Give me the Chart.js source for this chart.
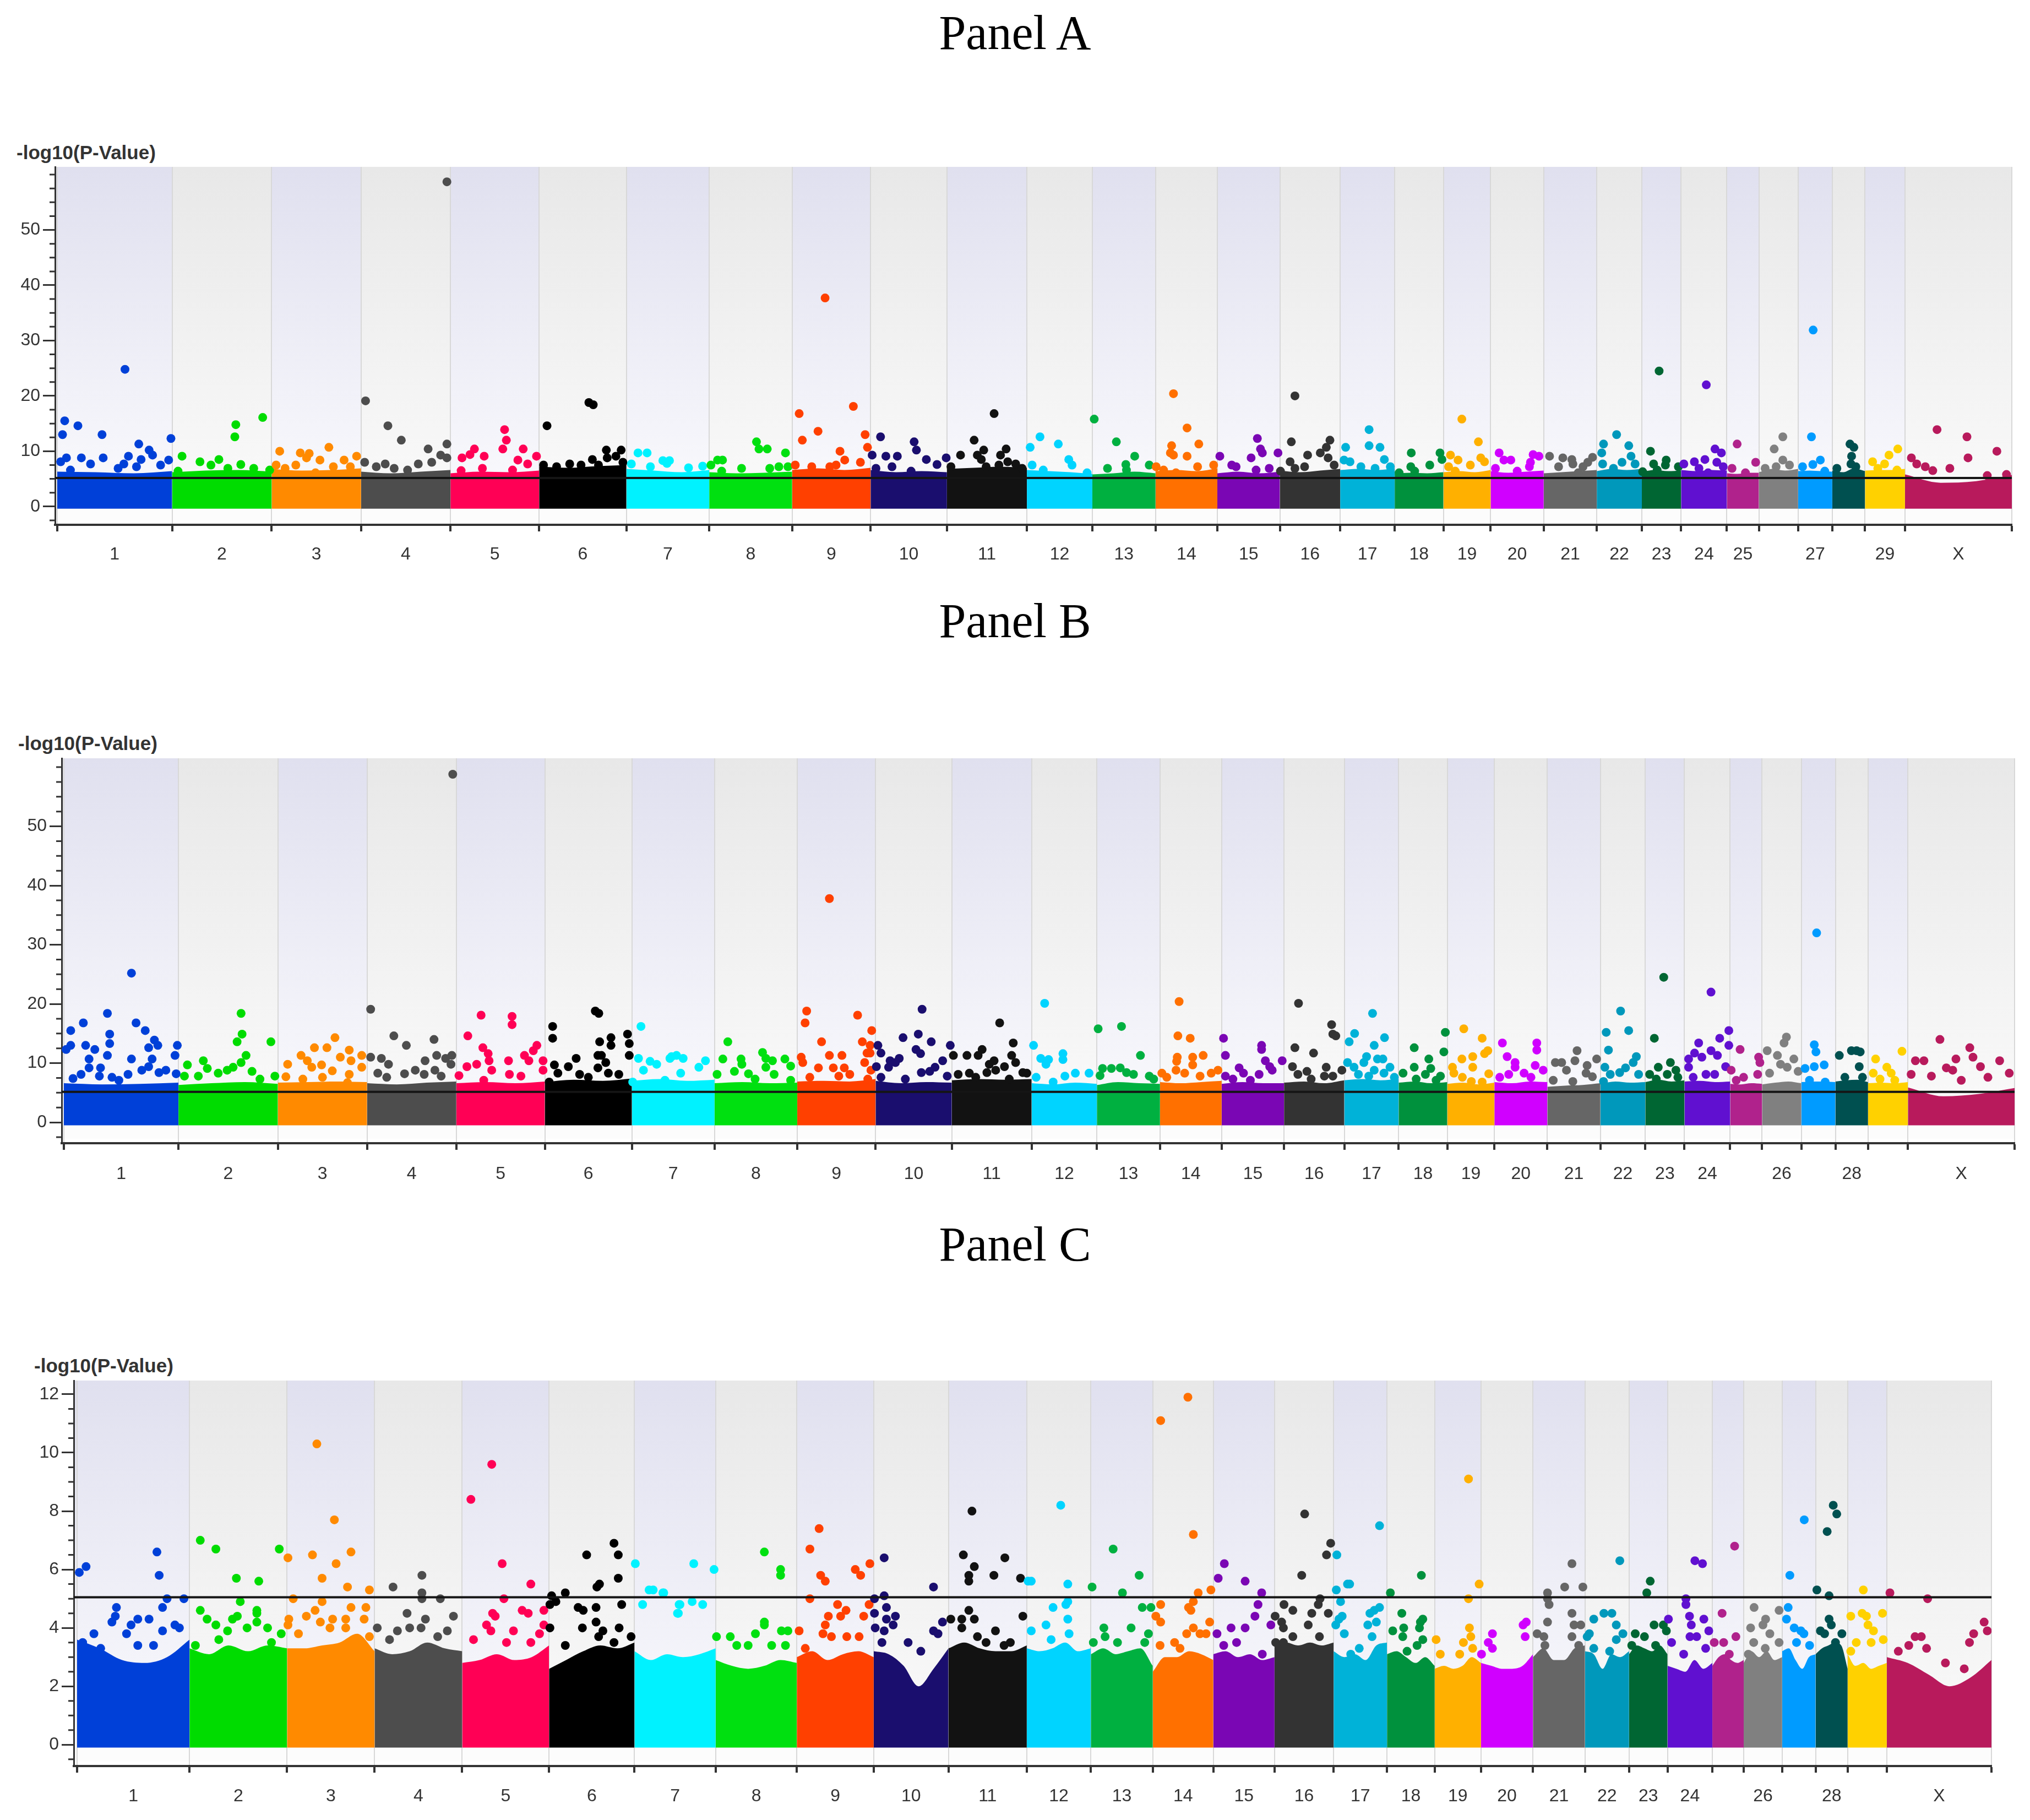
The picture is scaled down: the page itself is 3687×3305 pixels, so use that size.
<!DOCTYPE html>
<html>
<head>
<meta charset="utf-8">
<script src="https://cdn.jsdelivr.net/npm/chart.js@4.4.1/dist/chart.umd.min.js"></script>
<style>
  body { margin: 0; width: 3687px; height: 3305px; background: #fff; position: relative; overflow: hidden; }
  .panel-title { position: absolute; left: 0; width: 3687px; text-align: center; font-family: "Liberation Serif", "Times New Roman", serif; font-size: 88px; line-height: 88px; color: #000; }
  .y-title { position: absolute; font-family: "Liberation Sans", Arial, sans-serif; font-weight: bold; font-size: 35px; line-height: 35px; color: #333; white-space: nowrap; }
  canvas { position: absolute; left: 0; }
</style>
</head>
<body>
<div class="panel-title" style="top:16px">Panel A</div>
<div class="panel-title" style="top:1084px">Panel B</div>
<div class="panel-title" style="top:2216px">Panel C</div>
<div class="y-title" style="top:259px;left:30px">-log10(P-Value)</div>
<div class="y-title" style="top:1332px;left:33px">-log10(P-Value)</div>
<div class="y-title" style="top:2462px;left:62px">-log10(P-Value)</div>
<canvas id="chartA" width="3687" height="1060" style="top:0px"></canvas>
<canvas id="chartB" width="3687" height="1120" style="top:1060px"></canvas>
<canvas id="chartC" width="3687" height="1125" style="top:2180px"></canvas>
<script>
// chromosomes (X is index 30)
const chromNames = ['1','2','3','4','5','6','7','8','9','10','11','12','13','14','15','16','17','18','19','20','21','22','23','24','25','26','27','28','29','X'];
const chromLengthMb = [158,137,123,123,122,120,114,114,108,105,110,90,87,85,86,83,75,67,65,73,73,62,54,63,44,54,47,45,55,147];
const chromColors = ['#0040d8','#00dc00','#ff8a00','#4d4d4d','#ff0055','#000000','#00f2ff','#00e010','#ff4000','#1a0e6e',
                     '#121212','#00d4ff','#00b040','#ff7000','#7a06b4','#333333','#00b2d8','#00913d','#ffb000','#d000ff',
                     '#666666','#0098bb','#006633','#6010d0','#b0228c','#808080','#009bff','#005050','#ffd100','#b81a5c'];

const xLabelsA  = ['1','2','3','4','5','6','7','8','9','10','11','12','13','14','15','16','17','18','19','20','21','22','23','24','25','','27','','29','X'];
const xLabelsBC = ['1','2','3','4','5','6','7','8','9','10','11','12','13','14','15','16','17','18','19','20','21','22','23','24','','26','','28','','X'];
const yTicksAB = [0,10,20,30,40,50];
const yTicksC  = [0,2,4,6,8,10,12];

// top of the dense block of SNPs, read along each chromosome
const massA = [
  [6.3,6.2,6.0,6.4],[6.2,6.5,6.6,6.3],[6.8,6.5,6.6,6.9],[6.3,6.0,6.3,6.6],[6.0,6.3,6.2,6.5],
  [7.2,7.0,7.3,7.5],[6.8,6.5,6.2,6.6],[6.2,6.0,6.1,6.3],[6.6,6.9,6.6,7.0],[6.6,6.2,6.4,6.2],
  [6.8,7.0,7.2,7.0],[6.6,6.4,6.2,5.9],[5.8,6.0,6.3,6.0],[6.4,6.6,6.4,6.9],[6.0,6.3,6.0,6.3],
  [6.5,6.2,6.5,6.8],[6.6,6.8,6.6,6.9],[6.0,6.1,6.0,6.2],[6.2,6.4,6.2,6.6],[6.4,6.1,6.3,6.5],
  [6.0,6.2,6.4,6.6],[6.4,6.8,6.6,6.8],[6.3,6.6,6.4,6.5],[6.6,6.4,6.6,6.5],[6.0,5.9,6.1,6.1],
  [6.2,6.8,6.5,6.8],[6.4,6.5,6.4,6.3],[6.5,6.2,6.9,6.4],[6.5,6.6,6.6,6.8],[5.8,4.3,4.6,5.7]
];
const massB = [
  [6.6,6.4,6.5,6.7],[6.3,6.6,6.8,6.5],[6.7,6.8,6.9,6.8],[6.6,6.4,6.7,6.9],[6.6,6.8,6.6,6.9],
  [6.8,7.2,7.0,7.4],[7.0,7.3,7.0,7.2],[6.6,6.8,6.6,6.7],[6.9,7.0,6.9,7.3],[7.0,6.6,6.8,6.7],
  [7.1,7.3,7.2,7.3],[6.6,6.4,6.7,6.5],[6.3,6.8,6.6,6.5],[6.8,6.6,6.8,7.0],[6.5,6.8,6.6,6.6],
  [6.7,6.9,6.6,7.1],[7.1,7.3,7.1,7.3],[6.7,6.9,6.6,6.8],[6.5,6.7,6.4,6.7],[6.8,6.6,6.9,6.8],
  [6.0,6.2,6.3,6.6],[6.5,6.9,6.7,6.8],[6.8,7.2,6.9,7.1],[6.9,7.0,6.8,6.9],[6.5,6.4,6.6,6.5],
  [6.4,6.7,6.9,6.6],[6.8,6.9,6.9,6.8],[6.9,7.1,7.2,6.8],[6.6,6.7,6.6,6.8],[5.9,4.4,4.8,5.8]
];
const massC = [
  [3.6,3.3,2.9,2.8,3.0,3.6],[3.3,3.1,3.4,3.2,3.4,3.3],[3.3,3.3,3.4,3.5,3.8,3.2],[3.3,3.1,3.2,3.5,3.3,3.2],
  [2.8,2.9,3.1,2.9,3.0,3.4],[2.6,2.9,3.2,3.4,3.3,3.5],[3.2,2.9,3.1,3.0,3.1,3.3],[2.9,2.7,2.6,2.7,2.9,2.8],
  [3.0,3.2,2.9,3.1,3.2,3.0],[3.2,3.1,2.7,2.0,2.6,3.3],[3.3,3.5,3.3,3.2,3.2,3.4],[3.3,3.2,3.3,3.5,3.2,3.3],
  [3.1,3.3,3.1,3.2,3.3,2.7],[2.5,3.0,3.0,3.2,3.1,2.9],[3.1,3.2,3.0,3.1,2.9,3.0],[3.4,3.5,3.4,3.5,3.4,3.5],
  [3.2,3.0,3.1,2.9,3.4,3.5],[3.1,3.2,3.0,2.8,3.0,2.7],[2.6,2.7,2.6,2.7,3.0,2.8],[2.8,2.7,2.6,2.6,2.7,3.1],
  [3.0,3.3,2.9,2.9,3.3,3.4],[3.2,3.1,2.6,3.1,3.0,3.2],[3.1,3.4,3.3,3.2,3.4,3.1],[2.7,2.6,2.5,2.9,2.6,2.8],
  [2.7,3.0,3.1,2.9,2.8,2.9],[2.8,3.2,3.0,3.2,2.9,3.0],[3.2,3.3,2.9,2.6,3.0,3.1],[3.1,3.3,3.4,3.5,3.4,2.6],
  [3.1,2.7,2.8,2.6,2.7,2.8],[3.0,2.8,2.4,2.0,2.3,2.9]
];

// individual SNPs: [chromosome (30 = X), relative position along chromosome, -log10(p)]
const dotsA = [
  [1,0.59,24.8],[1,0.065,15.5],[1,0.18,14.6],[1,0.046,13.0],[1,0.39,13.0],[1,0.71,11.3],[1,0.99,12.3],[1,0.80,10.2],[1,0.83,9.3],[1,0.08,8.8],[1,0.21,8.8],[1,0.40,8.8],[1,0.62,9.1],[1,0.73,8.5],[1,0.97,8.4],[1,0.03,8.1],[1,0.29,7.7],[1,0.58,7.7],[1,0.53,6.9],[1,0.90,7.5],[1,0.115,6.6],[1,0.69,7.2],
  [2,0.91,16.1],[2,0.64,14.8],[2,0.63,12.6],[2,0.10,9.1],[2,0.28,8.1],[2,0.47,8.5],[2,0.39,7.5],[2,0.69,7.6],[2,0.82,6.9],[2,0.98,6.6],[2,0.06,6.4],[2,0.56,6.9],
  [3,0.64,10.7],[3,0.09,10.0],[3,0.32,9.7],[3,0.42,9.6],[3,0.39,8.8],[3,0.54,8.4],[3,0.95,9.1],[3,0.81,8.4],[3,0.05,7.5],[3,0.27,7.5],[3,0.69,7.2],[3,0.15,6.9],[3,0.49,6.1],[3,0.88,7.2],
  [4,0.96,58.7],[4,0.05,19.1],[4,0.30,14.6],[4,0.45,12.0],[4,0.96,11.3],[4,0.75,10.4],[4,0.89,9.3],[4,0.96,8.8],[4,0.04,8.0],[4,0.27,7.7],[4,0.79,8.0],[4,0.64,7.7],[4,0.17,7.2],[4,0.37,6.9],[4,0.52,6.6],
  [5,0.61,13.9],[5,0.63,12.0],[5,0.59,10.4],[5,0.82,10.4],[5,0.27,10.4],[5,0.22,9.4],[5,0.38,9.1],[5,0.13,8.8],[5,0.97,9.1],[5,0.76,8.4],[5,0.87,7.7],[5,0.12,6.5],[5,0.36,6.9],[5,0.70,6.6],
  [6,0.09,14.6],[6,0.57,18.8],[6,0.62,18.4],[6,0.77,10.2],[6,0.94,10.2],[6,0.78,8.8],[6,0.88,9.1],[6,0.61,8.5],[6,0.35,7.7],[6,0.48,7.5],[6,0.05,7.5],[6,0.20,7.2],[6,0.96,8.0],[6,0.68,7.5],
  [7,0.06,7.7],[7,0.14,9.7],[7,0.25,9.7],[7,0.29,7.2],[7,0.44,8.3],[7,0.52,8.3],[7,0.49,7.8],[7,0.75,7.0],[7,0.92,7.3],
  [8,0.57,11.7],[8,0.60,10.4],[8,0.70,10.4],[8,0.92,9.7],[8,0.10,8.4],[8,0.16,8.4],[8,0.02,7.5],[8,0.39,6.9],[8,0.73,6.9],[8,0.84,7.2],[8,0.95,7.2],[8,0.15,6.4],
  [9,0.42,37.7],[9,0.78,18.1],[9,0.09,16.8],[9,0.33,13.6],[9,0.93,13.0],[9,0.13,12.0],[9,0.96,10.7],[9,0.61,10.0],[9,0.67,8.4],[9,0.87,8.0],[9,0.04,7.5],[9,0.25,7.2],[9,0.48,7.2],[9,0.56,7.5],
  [10,0.13,12.6],[10,0.57,11.7],[10,0.60,10.2],[10,0.02,9.3],[10,0.20,9.1],[10,0.35,9.1],[10,0.73,8.5],[10,0.99,8.8],[10,0.87,7.6],[10,0.28,7.2],[10,0.07,6.9],[10,0.53,6.4],
  [11,0.59,16.8],[11,0.34,12.0],[11,0.46,10.2],[11,0.74,10.4],[11,0.17,9.3],[11,0.38,9.3],[11,0.67,9.3],[11,0.43,8.5],[11,0.76,8.1],[11,0.86,7.7],[11,0.05,7.2],[11,0.65,7.5],[11,0.49,7.2],[11,0.94,6.9],
  [12,0.20,12.6],[12,0.48,11.3],[12,0.05,10.7],[12,0.64,8.5],[12,0.69,7.5],[12,0.08,7.5],[12,0.25,6.6],[12,0.92,6.1],
  [13,0.03,15.8],[13,0.38,11.7],[13,0.67,9.1],[13,0.53,7.6],[13,0.90,7.5],[13,0.24,6.9],[13,0.54,6.6],
  [14,0.29,20.4],[14,0.51,14.2],[14,0.26,11.0],[14,0.70,11.3],[14,0.24,9.7],[14,0.29,9.3],[14,0.51,9.1],[14,0.01,7.2],[14,0.13,6.6],[14,0.68,7.2],[14,0.94,7.5],[14,0.33,6.1],
  [15,0.64,12.3],[15,0.69,10.4],[15,0.72,9.7],[15,0.97,9.7],[15,0.04,9.1],[15,0.54,8.8],[15,0.23,7.5],[15,0.30,7.2],[15,0.83,6.9],[15,0.62,6.6],
  [16,0.25,20.0],[16,0.19,11.7],[16,0.83,12.0],[16,0.77,10.7],[16,0.67,9.7],[16,0.46,9.3],[16,0.80,8.8],[16,0.17,8.1],[16,0.41,7.2],[16,0.25,6.9],[16,0.01,6.4],[16,0.90,7.5],
  [17,0.53,13.9],[17,0.53,11.0],[17,0.73,10.7],[17,0.10,10.7],[17,0.18,8.1],[17,0.07,8.4],[17,0.81,8.5],[17,0.38,7.2],[17,0.92,7.2],[17,0.64,6.9],
  [18,0.34,9.7],[18,0.93,9.7],[18,0.97,8.5],[18,0.72,7.5],[18,0.33,7.2],[18,0.41,6.4],[18,0.09,6.1],
  [19,0.39,15.8],[19,0.74,11.7],[19,0.15,9.3],[19,0.31,8.4],[19,0.79,8.8],[19,0.87,8.1],[19,0.57,7.5],[19,0.11,7.2],[19,0.25,6.4],
  [20,0.16,9.7],[20,0.80,9.4],[20,0.91,9.1],[20,0.38,8.4],[20,0.25,8.4],[20,0.75,8.0],[20,0.09,6.9],[20,0.73,7.2],[20,0.50,6.4],
  [21,0.11,9.1],[21,0.36,8.8],[21,0.53,8.5],[21,0.55,7.7],[21,0.92,8.9],[21,0.83,8.0],[21,0.28,7.2],[21,0.74,7.2],[21,0.65,6.1],
  [22,0.44,13.0],[22,0.15,11.3],[22,0.71,11.0],[22,0.11,9.7],[22,0.76,9.1],[22,0.56,8.0],[22,0.13,7.7],[22,0.85,7.7],[22,0.37,6.9],
  [23,0.44,24.5],[23,0.22,10.0],[23,0.62,8.4],[23,0.30,7.7],[23,0.60,7.5],[23,0.02,6.3],[23,0.93,7.2],[23,0.39,6.6],
  [24,0.55,22.0],[24,0.74,10.4],[24,0.88,9.7],[24,0.52,8.5],[24,0.29,8.1],[24,0.78,8.0],[24,0.06,7.7],[24,0.92,7.2],[24,0.39,6.9],[24,0.59,6.1],
  [25,0.32,11.3],[25,0.90,8.0],[25,0.16,6.9],[25,0.58,6.1],
  [26,0.61,12.6],[26,0.39,10.4],[26,0.61,8.4],[26,0.78,7.5],[26,0.16,6.9],[26,0.44,7.2],
  [27,0.44,31.9],[27,0.39,12.6],[27,0.65,8.4],[27,0.43,7.6],[27,0.13,7.2],[27,0.78,6.4],
  [28,0.54,11.3],[28,0.66,10.7],[28,0.59,9.1],[28,0.57,7.7],[28,0.14,6.9],[28,0.72,7.2],
  [29,0.82,10.4],[29,0.60,9.3],[29,0.19,8.1],[29,0.49,7.7],[29,0.32,6.9],[29,0.80,6.6],
  [30,0.30,13.9],[30,0.58,12.6],[30,0.86,10.0],[30,0.59,8.8],[30,0.06,8.8],[30,0.11,7.7],[30,0.26,6.5],[30,0.42,6.9],[30,0.19,7.2],[30,0.77,5.6],[30,0.95,5.8]
];
const dotsB = [
  [1,0.59,25.2],[1,0.38,18.4],[1,0.17,16.8],[1,0.63,16.8],[1,0.06,15.5],[1,0.71,15.5],[1,0.40,14.9],[1,0.40,13.3],[1,0.79,13.9],[1,0.06,13.0],[1,0.19,13.0],[1,0.82,13.0],[1,0.99,13.0],[1,0.02,12.3],[1,0.27,12.3],[1,0.74,12.6],[1,0.38,11.3],[1,0.97,11.3],[1,0.22,10.7],[1,0.59,10.7],[1,0.77,10.7],[1,0.22,9.2],[1,0.32,9.2],[1,0.74,9.4],[1,0.68,8.8],[1,0.89,8.8],[1,0.15,8.1],[1,0.56,8.1],[1,0.83,8.4],[1,0.98,8.2],[1,0.08,7.4],[1,0.31,7.8],[1,0.42,7.6],[1,0.48,7.1],
  [2,0.63,18.4],[2,0.64,14.9],[2,0.59,13.6],[2,0.93,13.6],[2,0.68,11.3],[2,0.25,10.4],[2,0.09,9.7],[2,0.29,9.1],[2,0.63,10.1],[2,0.49,8.8],[2,0.55,9.3],[2,0.74,8.6],[2,0.06,7.8],[2,0.40,8.3],[2,0.20,7.8],[2,0.82,7.3],[2,0.97,7.8],
  [3,0.64,14.3],[3,0.41,12.6],[3,0.55,12.6],[3,0.80,12.2],[3,0.26,11.3],[3,0.94,11.3],[3,0.70,11.0],[3,0.11,9.8],[3,0.33,10.4],[3,0.49,9.7],[3,0.82,10.4],[3,0.94,9.3],[3,0.38,9.3],[3,0.61,8.7],[3,0.80,8.1],[3,0.09,7.7],[3,0.28,7.3],[3,0.50,7.6],[3,0.78,6.7],
  [4,0.96,58.8],[4,0.04,19.1],[4,0.30,14.6],[4,0.75,14.0],[4,0.44,13.0],[4,0.78,11.3],[4,0.95,11.3],[4,0.04,11.0],[4,0.16,10.8],[4,0.88,10.8],[4,0.65,10.4],[4,0.24,9.8],[4,0.94,9.8],[4,0.54,8.8],[4,0.42,8.2],[4,0.76,8.8],[4,0.12,8.3],[4,0.22,7.6],[4,0.64,8.1],[4,0.83,7.8],
  [5,0.28,18.1],[5,0.63,17.9],[5,0.63,16.5],[5,0.13,14.6],[5,0.91,13.0],[5,0.30,12.6],[5,0.87,12.1],[5,0.77,11.3],[5,0.36,11.6],[5,0.59,10.4],[5,0.82,10.4],[5,0.37,10.4],[5,0.23,9.8],[5,0.12,9.4],[5,0.98,10.4],[5,0.98,8.8],[5,0.40,8.8],[5,0.03,7.9],[5,0.60,8.1],[5,0.73,7.8],[5,0.31,7.1],
  [6,0.58,18.8],[6,0.62,18.4],[6,0.09,16.2],[6,0.09,14.2],[6,0.95,14.9],[6,0.76,14.3],[6,0.63,13.6],[6,0.76,13.0],[6,0.97,13.3],[6,0.97,11.3],[6,0.36,10.8],[6,0.61,11.3],[6,0.65,11.3],[6,0.11,9.7],[6,0.70,10.1],[6,0.27,9.4],[6,0.61,9.2],[6,0.15,8.3],[6,0.40,8.1],[6,0.73,8.3],[6,0.85,8.1],[6,0.50,7.6],[6,0.05,6.8],
  [7,0.11,16.2],[7,0.08,10.8],[7,0.22,10.3],[7,0.30,9.8],[7,0.14,8.8],[7,0.48,11.1],[7,0.62,10.8],[7,0.54,11.3],[7,0.46,10.8],[7,0.89,10.4],[7,0.81,9.3],[7,0.59,8.3],[7,0.40,7.1],[7,0.01,6.8],
  [8,0.16,13.6],[8,0.10,10.7],[8,0.32,10.7],[8,0.33,9.8],[8,0.58,11.8],[8,0.62,10.8],[8,0.70,10.4],[8,0.85,10.7],[8,0.92,9.5],[8,0.62,9.3],[8,0.03,8.1],[8,0.24,8.6],[8,0.41,8.2],[8,0.72,8.1],[8,0.92,7.1],[8,0.49,7.3],
  [9,0.41,37.8],[9,0.12,18.8],[9,0.77,18.1],[9,0.10,16.8],[9,0.95,15.5],[9,0.31,13.6],[9,0.83,13.6],[9,0.93,13.0],[9,0.93,11.7],[9,0.89,11.7],[9,0.05,11.0],[9,0.41,11.3],[9,0.57,11.3],[9,0.07,10.1],[9,0.86,10.1],[9,0.27,9.2],[9,0.46,9.2],[9,0.60,9.2],[9,0.94,8.8],[9,0.67,8.1],[9,0.16,7.6],[9,0.53,7.8],[9,0.90,7.3],
  [10,0.61,19.1],[10,0.56,14.9],[10,0.36,14.3],[10,0.73,13.6],[10,0.98,13.0],[10,0.03,13.0],[10,0.53,12.3],[10,0.59,11.6],[10,0.07,11.7],[10,0.31,10.8],[10,0.88,10.4],[10,0.19,10.4],[10,0.26,10.1],[10,0.01,9.4],[10,0.17,9.3],[10,0.78,9.3],[10,0.60,8.4],[10,0.71,8.6],[10,0.94,7.8],[10,0.07,7.6],[10,0.39,7.3],
  [11,0.60,16.8],[11,0.77,13.4],[11,0.38,12.3],[11,0.02,11.3],[11,0.19,11.3],[11,0.33,11.3],[11,0.75,11.3],[11,0.53,10.4],[11,0.80,10.1],[11,0.47,9.8],[11,0.66,9.4],[11,0.55,8.8],[11,0.89,8.4],[11,0.94,8.3],[11,0.44,8.4],[11,0.22,8.3],[11,0.08,8.1],[11,0.30,7.6],[11,0.72,7.3],
  [12,0.20,20.1],[12,0.03,13.0],[12,0.48,11.6],[12,0.48,10.6],[12,0.14,10.8],[12,0.26,10.6],[12,0.22,9.8],[12,0.67,8.3],[12,0.88,8.3],[12,0.51,7.8],[12,0.07,7.6],[12,0.33,6.8],
  [13,0.39,16.2],[13,0.02,15.8],[13,0.69,11.3],[13,0.09,9.1],[13,0.37,9.2],[13,0.23,9.1],[13,0.47,8.4],[13,0.58,8.1],[13,0.83,7.8],[13,0.05,7.9],[13,0.90,7.3],
  [14,0.31,20.4],[14,0.29,14.6],[14,0.49,14.2],[14,0.70,11.3],[14,0.28,11.0],[14,0.53,11.0],[14,0.53,9.7],[14,0.27,10.3],[14,0.26,8.8],[14,0.03,8.3],[14,0.83,8.3],[14,0.94,8.8],[14,0.40,8.3],[14,0.65,7.8],[14,0.11,7.6],
  [15,0.03,14.2],[15,0.64,13.0],[15,0.64,12.3],[15,0.06,11.3],[15,0.97,10.4],[15,0.70,10.4],[15,0.77,9.4],[15,0.28,9.2],[15,0.81,8.8],[15,0.06,7.8],[15,0.35,8.3],[15,0.60,8.1],[15,0.18,7.3],[15,0.46,7.1],
  [16,0.24,20.1],[16,0.79,16.5],[16,0.81,14.9],[16,0.86,14.6],[16,0.18,12.6],[16,0.49,11.7],[16,0.14,9.4],[16,0.38,8.6],[16,0.70,9.3],[16,0.96,8.8],[16,0.67,7.8],[16,0.23,8.1],[16,0.81,7.8],[16,0.45,7.3],
  [17,0.52,18.4],[17,0.19,15.0],[17,0.09,13.6],[17,0.74,14.3],[17,0.55,13.0],[17,0.41,11.1],[17,0.61,10.7],[17,0.71,10.7],[17,0.06,10.1],[17,0.18,9.3],[17,0.36,10.1],[17,0.84,9.3],[17,0.55,8.8],[17,0.73,8.3],[17,0.26,8.1],[17,0.45,7.8],[17,0.92,7.6],
  [18,0.96,15.2],[18,0.32,12.6],[18,0.93,11.9],[18,0.62,10.7],[18,0.32,9.3],[18,0.66,9.1],[18,0.09,8.3],[18,0.55,8.1],[18,0.86,7.8],[18,0.36,7.3],[18,0.77,7.1],
  [19,0.35,15.8],[19,0.74,14.2],[19,0.86,12.1],[19,0.79,11.6],[19,0.31,10.7],[19,0.54,11.1],[19,0.54,9.3],[19,0.11,9.3],[19,0.88,8.2],[19,0.14,8.3],[19,0.32,7.6],[19,0.51,6.9],[19,0.74,6.8],
  [20,0.15,13.4],[20,0.80,13.4],[20,0.80,12.2],[20,0.24,11.1],[20,0.39,10.1],[20,0.39,9.3],[20,0.77,9.6],[20,0.92,8.8],[20,0.27,8.1],[20,0.56,8.3],[20,0.10,7.6],[20,0.69,7.6],
  [21,0.56,12.1],[21,0.15,10.1],[21,0.27,10.1],[21,0.52,10.4],[21,0.93,10.7],[21,0.75,9.6],[21,0.36,8.8],[21,0.73,8.3],[21,0.85,7.7],[21,0.48,6.9],[21,0.11,7.1],
  [22,0.45,18.8],[22,0.63,15.5],[22,0.13,15.2],[22,0.18,12.2],[22,0.80,11.1],[22,0.10,9.3],[22,0.73,10.1],[22,0.56,9.2],[22,0.43,8.4],[22,0.22,8.1],[22,0.85,8.1],[22,0.07,6.9],
  [23,0.47,24.5],[23,0.23,14.2],[23,0.64,10.1],[23,0.33,9.3],[23,0.78,8.8],[23,0.11,8.1],[23,0.56,8.1],[23,0.83,7.6],[23,0.28,7.3],
  [24,0.58,22.0],[24,0.97,15.5],[24,0.77,14.2],[24,0.31,13.4],[24,0.97,13.0],[24,0.22,11.7],[24,0.58,12.1],[24,0.72,11.3],[24,0.38,11.0],[24,0.09,10.7],[24,0.90,9.4],[24,0.09,9.3],[24,0.47,8.1],[24,0.66,8.1],[24,0.19,7.6],
  [25,0.31,12.3],[25,0.89,11.0],[25,0.93,10.1],[25,0.03,8.8],[25,0.42,7.6],[25,0.86,8.1],[25,0.19,7.1],
  [26,0.62,14.4],[26,0.56,13.4],[26,0.13,12.1],[26,0.39,11.3],[26,0.81,10.7],[26,0.47,9.8],[26,0.64,9.3],[26,0.92,8.6],[26,0.19,8.3],
  [27,0.45,32.0],[27,0.38,13.1],[27,0.43,11.9],[27,0.67,9.7],[27,0.38,9.4],[27,0.11,9.1],[27,0.24,7.1],[27,0.70,6.8],
  [28,0.12,11.3],[28,0.49,12.1],[28,0.65,12.1],[28,0.76,11.9],[28,0.73,9.4],[28,0.29,7.6],[28,0.83,7.6],
  [29,0.85,12.0],[29,0.19,10.7],[29,0.47,9.3],[29,0.58,8.3],[29,0.67,7.1],[29,0.13,8.3],[29,0.30,7.3],
  [30,0.30,14.0],[30,0.58,12.6],[30,0.61,11.0],[30,0.45,10.7],[30,0.86,10.4],[30,0.68,9.4],[30,0.07,10.4],[30,0.15,10.4],[30,0.36,9.2],[30,0.42,8.8],[30,0.75,7.6],[30,0.95,8.3],[30,0.03,8.1],[30,0.22,7.8],[30,0.50,7.1]
];
const dotsC = [
  [1,0.02,5.9],[1,0.08,6.1],[1,0.71,6.6],[1,0.73,5.8],[1,0.80,5.0],[1,0.95,5.0],[1,0.76,4.7],[1,0.35,4.7],[1,0.34,4.4],[1,0.31,4.2],[1,0.64,4.3],[1,0.54,4.3],[1,0.48,4.1],[1,0.44,3.8],[1,0.76,3.9],[1,0.87,4.1],[1,0.91,4.0],[1,0.15,3.8],[1,0.05,3.5],[1,0.21,3.3],[1,0.54,3.4],[1,0.68,3.4],
  [2,0.11,7.0],[2,0.27,6.7],[2,0.92,6.7],[2,0.48,5.7],[2,0.71,5.6],[2,0.52,4.9],[2,0.11,4.6],[2,0.69,4.6],[2,0.69,4.5],[2,0.18,4.3],[2,0.49,4.4],[2,0.44,4.3],[2,0.27,4.1],[2,0.69,4.2],[2,0.59,4.0],[2,0.80,4.0],[2,0.39,3.9],[2,0.94,3.8],[2,0.06,3.4],[2,0.30,3.6],[2,0.84,3.5],
  [3,0.34,10.3],[3,0.54,7.7],[3,0.73,6.6],[3,0.29,6.5],[3,0.01,6.4],[3,0.56,6.2],[3,0.40,5.7],[3,0.69,5.4],[3,0.94,5.3],[3,0.07,5.0],[3,0.40,4.9],[3,0.32,4.6],[3,0.73,4.7],[3,0.90,4.7],[3,0.22,4.4],[3,0.02,4.3],[3,0.67,4.3],[3,0.88,4.3],[3,0.38,4.2],[3,0.52,4.3],[3,0.01,4.1],[3,0.49,4.0],[3,0.67,4.0],[3,0.13,3.8],[3,0.94,3.7],
  [4,0.54,5.8],[4,0.21,5.4],[4,0.54,5.2],[4,0.54,5.0],[4,0.75,5.0],[4,0.37,4.5],[4,0.90,4.4],[4,0.58,4.3],[4,0.40,4.0],[4,0.03,4.0],[4,0.26,3.9],[4,0.53,4.0],[4,0.83,3.9],[4,0.17,3.6],[4,0.72,3.7],
  [5,0.34,9.6],[5,0.10,8.4],[5,0.46,6.2],[5,0.79,5.5],[5,0.48,5.0],[5,0.94,4.6],[5,0.69,4.6],[5,0.76,4.5],[5,0.35,4.5],[5,0.38,4.4],[5,0.28,4.1],[5,0.94,4.1],[5,0.59,3.9],[5,0.33,3.9],[5,0.89,3.8],[5,0.13,3.6],[5,0.51,3.5],[5,0.79,3.5],
  [6,0.76,6.9],[6,0.44,6.5],[6,0.81,6.5],[6,0.81,5.7],[6,0.59,5.5],[6,0.56,5.4],[6,0.03,5.1],[6,0.19,5.2],[6,0.08,4.9],[6,0.01,4.8],[6,0.85,4.8],[6,0.55,4.7],[6,0.34,4.7],[6,0.40,4.6],[6,0.55,4.2],[6,0.01,4.0],[6,0.39,4.0],[6,0.82,4.0],[6,0.63,3.9],[6,0.96,3.7],[6,0.58,3.7],[6,0.19,3.4],[6,0.76,3.5],
  [7,0.01,6.2],[7,0.23,5.3],[7,0.35,5.2],[7,0.18,5.3],[7,0.10,4.8],[7,0.55,4.8],[7,0.53,4.5],[7,0.73,6.2],[7,0.98,6.0],[7,0.36,5.2],[7,0.56,4.8],[7,0.71,4.9],[7,0.84,4.8],[7,0.54,4.5],
  [8,0.60,6.6],[8,0.80,6.0],[8,0.80,5.8],[8,0.60,4.2],[8,0.60,4.1],[8,0.49,3.8],[8,0.81,3.9],[8,0.89,3.9],[8,0.01,3.7],[8,0.18,3.7],[8,0.26,3.4],[8,0.40,3.4],[8,0.69,3.4],[8,0.86,3.4],
  [9,0.29,7.4],[9,0.17,6.7],[9,0.31,5.8],[9,0.37,5.6],[9,0.76,6.0],[9,0.83,5.8],[9,0.95,6.2],[9,0.17,5.0],[9,0.53,4.8],[9,0.94,4.8],[9,0.64,4.6],[9,0.57,4.4],[9,0.87,4.4],[9,0.41,4.4],[9,0.37,4.1],[9,0.03,3.9],[9,0.34,3.8],[9,0.45,3.7],[9,0.65,3.7],[9,0.81,3.7],[9,0.11,3.3],
  [10,0.14,6.4],[10,0.80,5.4],[10,0.14,5.1],[10,0.01,5.0],[10,0.17,4.7],[10,0.01,4.5],[10,0.29,4.4],[10,0.17,4.3],[10,0.26,4.1],[10,0.02,4.0],[10,0.14,3.9],[10,0.92,4.2],[10,0.80,3.9],[10,0.86,3.8],[10,0.46,3.5],[10,0.63,3.2],[10,0.11,3.5],
  [11,0.30,8.0],[11,0.19,6.5],[11,0.72,6.4],[11,0.33,6.1],[11,0.26,5.8],[11,0.26,5.6],[11,0.58,5.8],[11,0.92,5.7],[11,0.26,4.6],[11,0.95,4.4],[11,0.03,4.3],[11,0.17,4.3],[11,0.33,4.3],[11,0.17,4.0],[11,0.60,3.9],[11,0.37,3.7],[11,0.48,3.5],[11,0.79,3.5],[11,0.71,3.4],
  [12,0.53,8.2],[12,0.64,5.5],[12,0.02,5.6],[12,0.07,5.6],[12,0.64,4.9],[12,0.41,4.7],[12,0.61,4.8],[12,0.64,4.3],[12,0.30,4.1],[12,0.07,3.9],[12,0.38,3.6],[12,0.66,3.8],
  [13,0.36,6.7],[13,0.78,5.8],[13,0.02,5.4],[13,0.51,5.2],[13,0.83,4.7],[13,0.97,4.7],[13,0.21,4.0],[13,0.65,4.0],[13,0.93,3.8],[13,0.04,3.5],[13,0.23,3.7],[13,0.87,3.5],[13,0.43,3.5],
  [14,0.58,11.9],[14,0.13,11.1],[14,0.67,7.2],[14,0.96,5.3],[14,0.75,5.2],[14,0.67,4.9],[14,0.13,4.8],[14,0.59,4.7],[14,0.63,4.6],[14,0.05,4.4],[14,0.13,4.2],[14,0.94,4.2],[14,0.67,4.0],[14,0.56,3.8],[14,0.78,3.8],[14,0.88,3.8],[14,0.36,3.5],[14,0.12,3.4],[14,0.45,3.3],
  [15,0.18,6.2],[15,0.08,5.7],[15,0.52,5.6],[15,0.79,5.2],[15,0.73,4.8],[15,0.68,4.4],[15,0.94,4.1],[15,0.29,4.0],[15,0.52,4.0],[15,0.06,3.8],[15,0.17,3.4],[15,0.38,3.5],[15,0.80,3.1],
  [16,0.51,7.9],[16,0.95,6.9],[16,0.88,6.5],[16,0.46,5.8],[16,0.77,5.0],[16,0.74,4.8],[16,0.16,4.8],[16,0.31,4.6],[16,0.63,4.5],[16,0.91,4.5],[16,0.01,4.4],[16,0.12,4.2],[16,0.57,4.1],[16,0.15,4.0],[16,0.31,3.7],[16,0.76,3.7],[16,0.02,3.5],[16,0.15,3.5],
  [17,0.06,6.5],[17,0.26,5.5],[17,0.05,5.3],[17,0.13,4.9],[17,0.10,4.3],[17,0.04,4.1],[17,0.86,7.5],[17,0.30,5.5],[17,0.76,4.6],[17,0.86,4.7],[17,0.68,4.5],[17,0.64,4.1],[17,0.80,4.2],[17,0.16,4.4],[17,0.20,3.8],[17,0.72,3.7],[17,0.48,3.3],[17,0.32,3.1],
  [18,0.72,5.8],[18,0.07,5.2],[18,0.31,4.5],[18,0.75,4.3],[18,0.70,4.2],[18,0.68,4.0],[18,0.35,4.0],[18,0.12,3.9],[18,0.33,3.7],[18,0.75,3.6],[18,0.63,3.4],[18,0.42,3.2],
  [19,0.73,9.1],[19,0.96,5.5],[19,0.73,5.0],[19,0.75,4.0],[19,0.78,3.7],[19,0.03,3.6],[19,0.62,3.5],[19,0.12,3.1],[19,0.54,3.1],[19,0.82,3.3],
  [20,0.87,4.2],[20,0.81,4.1],[20,0.22,3.8],[20,0.14,3.5],[20,0.22,3.3],[20,0.85,3.7],[20,0.01,3.1],
  [21,0.75,6.2],[21,0.61,5.4],[21,0.96,5.4],[21,0.28,5.2],[21,0.28,5.0],[21,0.31,4.8],[21,0.75,4.5],[21,0.28,4.2],[21,0.92,4.1],[21,0.79,4.1],[21,0.08,3.8],[21,0.21,3.7],[21,0.23,3.4],[21,0.75,3.7],[21,0.88,3.4],
  [22,0.79,6.3],[22,0.43,4.5],[22,0.61,4.5],[22,0.20,4.3],[22,0.71,4.1],[22,0.10,3.8],[22,0.05,3.7],[22,0.86,3.8],[22,0.71,3.6],[22,0.20,3.3],[22,0.56,3.2],
  [23,0.55,5.6],[23,0.46,5.2],[23,0.89,4.1],[23,0.65,4.1],[23,0.97,3.9],[23,0.16,3.8],[23,0.40,3.7],[23,0.69,3.4],[23,0.07,3.4],
  [24,0.61,6.3],[24,0.78,6.2],[24,0.41,5.0],[24,0.41,4.8],[24,0.02,4.3],[24,0.49,4.4],[24,0.81,4.3],[24,0.53,4.1],[24,0.92,3.9],[24,0.50,3.7],[24,0.65,3.7],[24,0.09,3.5],[24,0.85,3.3],[24,0.36,3.1],
  [25,0.71,6.8],[25,0.31,4.5],[25,0.75,3.7],[25,0.06,3.5],[25,0.36,3.5],[25,0.54,3.1],
  [26,0.27,4.7],[26,0.92,4.6],[26,0.57,4.3],[26,0.18,4.0],[26,0.50,4.1],[26,0.68,3.8],[26,0.26,3.5],[26,0.56,3.3],[26,0.92,3.5],[26,0.12,3.1],
  [27,0.66,7.7],[27,0.23,5.8],[27,0.18,4.7],[27,0.13,4.3],[27,0.36,4.0],[27,0.56,3.9],[27,0.65,3.8],[27,0.43,3.5],[27,0.82,3.4],
  [28,0.55,8.2],[28,0.66,7.9],[28,0.36,7.3],[28,0.04,5.3],[28,0.42,5.1],[28,0.42,4.3],[28,0.49,4.1],[28,0.15,3.9],[28,0.28,3.8],[28,0.82,3.8],[28,0.62,3.5],
  [29,0.40,5.3],[29,0.37,4.5],[29,0.08,4.4],[29,0.48,4.4],[29,0.89,4.5],[29,0.52,4.1],[29,0.66,3.9],[29,0.91,3.6],[29,0.22,3.5],[29,0.60,3.5],[29,0.08,3.2],
  [30,0.03,5.2],[30,0.39,5.0],[30,0.93,4.2],[30,0.96,3.9],[30,0.83,3.8],[30,0.79,3.5],[30,0.27,3.7],[30,0.33,3.7],[30,0.21,3.4],[30,0.11,3.2],[30,0.38,3.3],[30,0.56,2.8],[30,0.74,2.6]
];

const panels = [
  { canvas: 'chartA', height: 1060, left: 100, right: 3654, plotTop: 303, plotBottom: 953, labelPad: 23,
    yMin: -3.3, yMax: 61.4, yTicks: yTicksAB, minorStep: 2.5, threshold: 5.15, floor: -0.4,
    mass: massA, dots: dotsA, xLabels: xLabelsA, xMin: -3 },
  { canvas: 'chartB', height: 1120, left: 112, right: 3659, plotTop: 317, plotBottom: 1016, labelPad: 25,
    yMin: -3.53, yMax: 61.5, yTicks: yTicksAB, minorStep: 2.5, threshold: 5.15, floor: -0.5,
    mass: massB, dots: dotsB, xLabels: xLabelsBC, xMin: -3 },
  { canvas: 'chartC', height: 1125, left: 134, right: 3617, plotTop: 327, plotBottom: 1027, labelPad: 24,
    yMin: -0.73, yMax: 12.47, yTicks: yTicksC, minorStep: 0.5, threshold: 5.05, floor: -0.1,
    mass: massC, dots: dotsC, xLabels: xLabelsBC, xMin: -4.6 }
];

const chromStart = [];
chromLengthMb.reduce((acc, len) => { chromStart.push(acc); return acc + len; }, 0);
const genomeEnd = chromStart[chromStart.length - 1] + chromLengthMb[chromLengthMb.length - 1];
const boundaries = chromStart.concat([genomeEnd]);
const centers = chromStart.map((s, i) => s + chromLengthMb[i] / 2);
const boundarySet = new Set(boundaries);
const xTickValues = boundaries.concat(centers).sort((a, b) => a - b);

const tickFont = { family: '"Liberation Sans", Arial, sans-serif', size: 32 };

function renderPanel(p) {
  const centerLabel = new Map(centers.map((c, i) => [c, p.xLabels[i]]));

  const massSets = p.mass.map((vals, i) => ({
    type: 'line',
    data: vals.map((v, k) => ({ x: chromStart[i] + chromLengthMb[i] * k / (vals.length - 1), y: v })),
    borderWidth: 0, pointRadius: 0, backgroundColor: chromColors[i],
    fill: { value: p.floor }, cubicInterpolationMode: 'monotone', order: 2
  }));

  const dotSet = {
    type: 'scatter',
    data: p.dots.map(d => ({ x: chromStart[d[0] - 1] + d[1] * chromLengthMb[d[0] - 1], y: d[2] })),
    pointBackgroundColor: p.dots.map(d => chromColors[d[0] - 1]),
    pointBorderWidth: 0, pointRadius: 8, showLine: false, order: 1
  };

  const thresholdSet = {
    type: 'line',
    data: [{ x: p.xMin, y: p.threshold }, { x: genomeEnd, y: p.threshold }],
    borderColor: '#151515', borderWidth: 4, pointRadius: 0, fill: false, order: 0
  };

  const bandsAndMinorTicks = {
    id: 'bands',
    beforeDraw(chart) {
      const { ctx, chartArea: a, scales: { x, y } } = chart;
      const y0 = y.getPixelForValue(0);
      ctx.save();
      chromStart.forEach((s, i) => {
        const x0 = i === 0 ? a.left : x.getPixelForValue(s);
        const x1 = x.getPixelForValue(s + chromLengthMb[i]);
        const g = ctx.createLinearGradient(0, a.top, 0, y0);
        g.addColorStop(0, i % 2 ? '#e8e8e8' : '#e0e0ef');
        g.addColorStop(1, i % 2 ? '#fafafa' : '#fafafd');
        ctx.fillStyle = g;
        ctx.fillRect(x0, a.top, x1 - x0, y0 - a.top);
        ctx.fillStyle = '#fcfcfc';
        ctx.fillRect(x0, y0, x1 - x0, a.bottom - 8 - y0);
      });
      ctx.restore();
    },
    afterDraw(chart) {
      const { ctx, chartArea: a, scales: { y } } = chart;
      ctx.save();
      ctx.strokeStyle = '#333';
      ctx.lineWidth = 3;
      ctx.beginPath();
      const first = Math.ceil(p.yMin / p.minorStep);
      const last = Math.floor(p.yMax / p.minorStep);
      for (let k = first; k <= last; k++) {
        const v = k * p.minorStep;
        if (p.yTicks.some(t => Math.abs(t - v) < 1e-9)) continue;
        const py = y.getPixelForValue(v);
        ctx.moveTo(a.left - 10, py);
        ctx.lineTo(a.left, py);
      }
      ctx.stroke();
      ctx.restore();
    }
  };

  new Chart(document.getElementById(p.canvas), {
    type: 'scatter',
    data: { datasets: [thresholdSet, dotSet].concat(massSets) },
    plugins: [bandsAndMinorTicks],
    options: {
      responsive: false, animation: false, devicePixelRatio: 1, events: [],
      layout: { padding: { left: 0, top: p.plotTop, right: 3687 - p.right, bottom: 0 } },
      plugins: { legend: { display: false }, tooltip: { enabled: false }, title: { display: false } },
      scales: {
        x: {
          type: 'linear', min: p.xMin, max: genomeEnd,
          afterFit: s => { s.height = p.height - p.plotBottom; },
          afterBuildTicks: s => { s.ticks = xTickValues.map(v => ({ value: v })); },
          grid: {
            color: c => (c.tick && boundarySet.has(c.tick.value)) ? '#d8d8d8' : 'rgba(0,0,0,0)',
            lineWidth: 2, drawTicks: true, tickLength: 12, tickWidth: 4,
            tickColor: c => (c.tick && boundarySet.has(c.tick.value)) ? '#333' : 'rgba(0,0,0,0)'
          },
          border: { display: true, color: '#333', width: 4 },
          ticks: {
            autoSkip: false, maxRotation: 0, minRotation: 0, padding: p.labelPad,
            color: '#333', font: tickFont,
            callback: v => centerLabel.has(v) ? centerLabel.get(v) : ''
          }
        },
        y: {
          type: 'linear', min: p.yMin, max: p.yMax,
          afterFit: s => { s.width = p.left; },
          afterBuildTicks: s => { s.ticks = p.yTicks.map(v => ({ value: v })); },
          grid: { drawOnChartArea: false, drawTicks: true, tickLength: 22, tickColor: '#333', tickWidth: 3 },
          border: { display: true, color: '#333', width: 3 },
          ticks: { padding: 5, color: '#333', font: tickFont, callback: v => String(v) }
        }
      }
    }
  });
}

panels.forEach(renderPanel);
</script>
</body>
</html>
